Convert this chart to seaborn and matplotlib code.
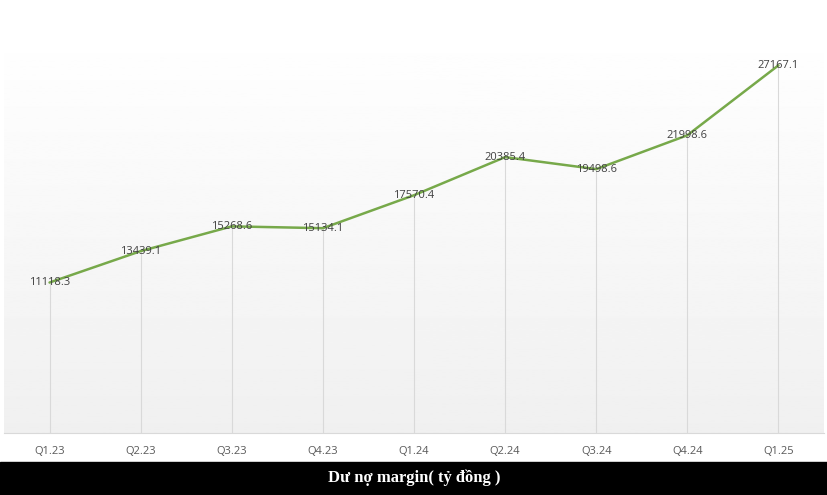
import numpy as np
import pandas as pd
import matplotlib
matplotlib.use("Agg")
import matplotlib.pyplot as plt
import seaborn as sns

quarters = ["Q1.23", "Q2.23", "Q3.23", "Q4.23", "Q1.24", "Q2.24", "Q3.24", "Q4.24", "Q1.25"]
margin_debt = [11118.3, 13439.1, 15268.6, 15134.1, 17570.4, 20385.4, 19498.6, 21998.6, 27167.1]
title = "Dư nợ margin( tỷ đồng )"

df = pd.DataFrame({"quarter": quarters, "value": margin_debt})
df["pos"] = range(len(df))

sns.set_style("white")
plt.rcParams["font.family"] = ["Open Sans", "DejaVu Sans"]

fig = plt.figure(figsize=(8.28, 4.95), dpi=100)
ax = fig.add_axes([4 / 828, 62 / 495, 820 / 828, 406 / 495])

# background gradient: white at top, light grey at bottom
grad = np.linspace(1.0, 0.94, 256).reshape(-1, 1)
ax.imshow(grad, extent=[0, 1, 0, 1], transform=ax.transAxes, cmap="gray",
          vmin=0, vmax=1, aspect="auto", zorder=0, origin="upper")

# drop lines from each point to the axis
ax.vlines(df["pos"], 0, df["value"], color="#d9d9d9", lw=0.8, zorder=1)

sns.lineplot(data=df, x="pos", y="value", color="#77a94a", lw=1.8, ax=ax, zorder=2)

for x, v in zip(df["pos"], df["value"]):
    ax.text(x, v, f"{v:.1f}", ha="center", va="center", fontsize=8,
            color="#404040", zorder=3)

ax.set_xlim(-0.5, len(quarters) - 0.5)
ax.set_ylim(0, 30000)
ax.set_xticks(df["pos"])
ax.set_xticklabels(quarters, fontsize=8, color="#595959")
ax.tick_params(axis="x", length=0, pad=9)
ax.set_yticks([])
ax.set_xlabel("")
ax.set_ylabel("")
for side in ["top", "left", "right"]:
    ax.spines[side].set_visible(False)
ax.spines["bottom"].set_color("#d9d9d9")
ax.spines["bottom"].set_linewidth(0.8)

# black title band at the bottom
fig.patches.append(plt.Rectangle((0, 0), 1, 33 / 495, transform=fig.transFigure,
                                 color="black", zorder=5))
fig.text(0.5, 17 / 495, title, ha="center", va="center", color="white",
         fontsize=12, fontweight="bold", family=["Liberation Serif", "DejaVu Serif"],
         zorder=6)

fig.savefig("out.png", dpi=100)
